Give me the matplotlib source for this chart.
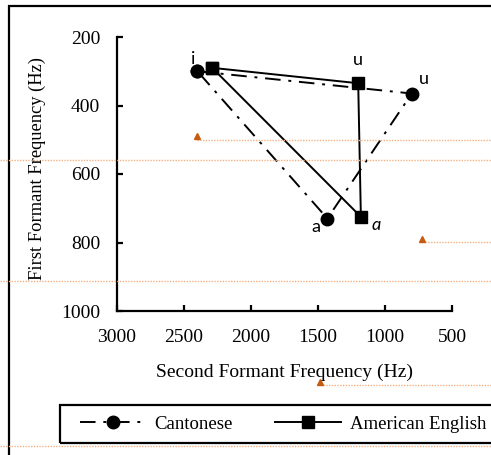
import matplotlib
matplotlib.use("Agg")
import matplotlib.pyplot as plt
from matplotlib.patches import Rectangle
from matplotlib.lines import Line2D

# ---- data ----
vowels = ["i", "u", "a"]
cantonese_f2 = [2400, 800, 1430]
cantonese_f1 = [300, 365, 730]
english_f2 = [2290, 1200, 1180]
english_f1 = [290, 335, 725]
x_ticks = [3000, 2500, 2000, 1500, 1000, 500]
y_ticks = [200, 400, 600, 800, 1000]

W, H = 491, 455
fig = plt.figure(figsize=(W / 100, H / 100), dpi=100)
serif = "Liberation Serif"

def fx(px):
    return px / W

def fy(py):
    return 1 - py / H

ax = fig.add_axes([fx(117), fy(311), fx(452) - fx(117), fy(37) - fy(311)])
ax.set_xlim(3000, 500)
ax.set_ylim(1000, 200)

close = lambda v: v + v[:1]
dashdot = (0, (8, 4, 1.5, 4))
ax.plot(close(cantonese_f2), close(cantonese_f1), color="black", lw=1.4,
        linestyle=dashdot, marker="o", markersize=9, zorder=3)
ax.plot(close(english_f2), close(english_f1), color="black", lw=1.4,
        linestyle="-", marker="s", markersize=8.5, zorder=3)

lab = dict(family="Lato", fontsize=13, color="black")
ax.annotate("i", (cantonese_f2[0], cantonese_f1[0]), xytext=(-3, 3),
            textcoords="offset points", ha="center", va="bottom", **lab)
ax.annotate("u", (english_f2[1], english_f1[1]), xytext=(0, 11),
            textcoords="offset points", ha="center", va="bottom", **lab)
ax.annotate("u", (cantonese_f2[1], cantonese_f1[1]), xytext=(5, 5),
            textcoords="offset points", ha="left", va="bottom", **lab)
ax.annotate("a", (cantonese_f2[2], cantonese_f1[2]), xytext=(-5, -6),
            textcoords="offset points", ha="right", va="center", **lab)
ax.annotate("ɑ", (english_f2[2], english_f1[2]), xytext=(8, -6),
            textcoords="offset points", ha="left", va="center",
            style="italic", **lab)

for s in ["top", "right"]:
    ax.spines[s].set_visible(False)
for s in ["left", "bottom"]:
    ax.spines[s].set_linewidth(1.6)
ax.set_xticks(x_ticks)
ax.set_yticks(y_ticks)
ax.set_xticklabels([str(v) for v in x_ticks], family=serif, fontsize=14)
ax.set_yticklabels([str(v) for v in y_ticks], family=serif, fontsize=14)
ax.tick_params(axis="both", direction="in", length=4, width=1.6)
ax.tick_params(axis="x", pad=13)
ax.tick_params(axis="y", pad=12)
ax.patch.set_alpha(0)

fig.text(fx(285), fy(372), "Second Formant Frequency (Hz)", family=serif,
         fontsize=14, ha="center", va="center")
fig.text(fx(37), fy(168), "First Formant Frequency (Hz)", family=serif,
         fontsize=13.3, ha="center", va="center", rotation=90)

# outer border and legend box (cut off at the image edge)
fig.patches.append(Rectangle((fx(9), -0.1), 1.2, fy(6) + 0.1,
                             transform=fig.transFigure, fill=False,
                             edgecolor="black", lw=1.6, zorder=0))
fig.patches.append(Rectangle((fx(60), fy(443)), 1.2, fy(405) - fy(443),
                             transform=fig.transFigure, fill=False,
                             edgecolor="black", lw=1.6, zorder=1))

handles = [
    Line2D([], [], color="black", lw=1.4, linestyle=dashdot,
           marker="o", markersize=9),
    Line2D([], [], color="black", lw=1.4, linestyle="-", marker="s",
           markersize=8.5),
]
fig.legend(handles, ["Cantonese", "American English"], ncol=2,
           frameon=False, loc="center left",
           bbox_to_anchor=(fx(63), fy(424)), handlelength=3.5,
           columnspacing=2.3, handletextpad=0.45,
           prop=dict(family=serif, size=13.5))

# faint orange leader lines and markers present in the image
orange_line = "#f4b183"
orange_mark = "#c55a11"
for (x0, yy) in [(197, 140), (0, 160), (425, 242), (0, 281), (323, 385), (0, 446)]:
    fig.add_artist(Line2D([fx(x0), 1], [fy(yy), fy(yy)], color=orange_line,
                          lw=1.0, linestyle=(0, (1, 1)),
                          transform=fig.transFigure))
for (xx, yy) in [(197, 136), (422, 239), (320, 382)]:
    fig.add_artist(Line2D([fx(xx)], [fy(yy)], color=orange_mark, marker="^",
                          markersize=4.5, linestyle="none",
                          transform=fig.transFigure))

fig.savefig("out.png", dpi=100)
